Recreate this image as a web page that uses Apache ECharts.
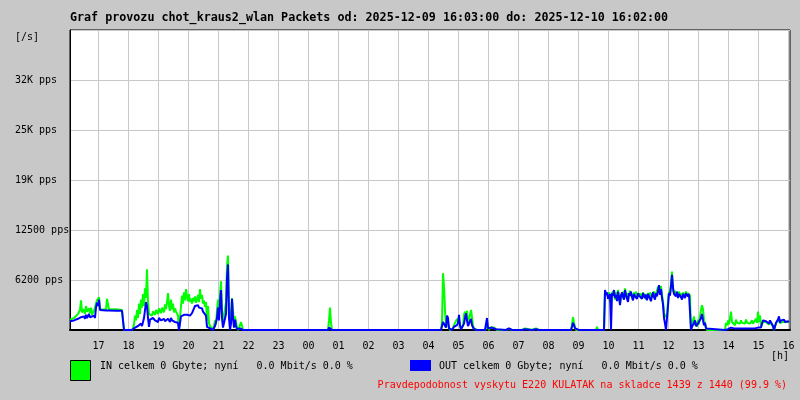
<!DOCTYPE html>
<html>
<head>
<meta charset="utf-8">
<script src="https://cdn.jsdelivr.net/npm/echarts@6/dist/echarts.min.js"></script>
<style>
html,body{margin:0;padding:0;background:#c8c8c8;}
#chart{width:800px;height:400px;}
</style>
</head>
<body>
<div id="chart"></div>
<script>
// time: minutes since 2025-12-09 16:00
const timeMin = [3,7,11,15,19,23,25,27,31,33,35,37,41,43,45,47,51,53,55,57,59,61,63,65,75,77,79,81,95,107,109,111,127,
129,131,133,135,137,139,141,143,145,147,149,151,153,155,157,159,161,163,167,169,173,175,179,181,185,187,191,193,195,197,199,201,203,205,207,209,211,213,215,217,219,221,223,
225,227,229,231,233,235,237,239,241,243,245,247,249,251,253,255,257,259,261,263,265,267,269,271,273,275,277,279,281,283,285,287,289,291,293,295,297,299,301,303,305,307,309,311,313,315,317,319,321,323,325,327,329,331,333,335,337,339,341,343,345,347,349,
415,417,419,519,521,523,525,527,
745,747,749,751,753,755,757,759,761,763,767,769,771,773,775,777,779,781,783,785,787,789,791,793,795,797,799,801,803,805,807,809,811,813,817,819,821,823,825,827,833,835,837,839,841,843,847,851,855,857,
875,877,881,885,887,893,895,897,907,909,913,917,927,929,935,939,941,955,957,959,977,979,981,987,989,991,1005,1007,1009,1011,1013,1015,1021,1023,1025,1055,1057,1059,1071,
1073,1075,1077,1079,1081,1083,1085,1087,1089,1091,1093,1095,1097,1099,1101,1103,1105,1107,1109,1111,1113,1115,1117,1119,1121,1123,1125,1127,1129,1131,1133,1135,1137,1139,1141,1143,1145,1147,1149,1151,1153,1155,1157,1159,1161,1163,1165,1167,1169,1171,1173,1175,1177,1179,1181,1183,1185,1187,1189,1191,1193,1195,1197,1199,1201,1203,1205,1207,1209,1211,1213,1215,1217,1219,1221,1223,1225,1227,1229,1231,1233,1235,1237,1239,1241,1243,1245,
1247,1249,1251,1253,1255,1257,1259,1261,1263,1265,1267,1269,1271,1273,1275,1277,
1313,1315,1317,1319,1321,1323,1325,1327,1329,1331,1333,1335,1337,1339,1341,1343,1345,1347,1349,1351,1353,1355,1357,1359,1361,1363,1365,1367,1369,1371,1373,1375,1377,1379,1381,1383,1385,1387,
1389,1391,1393,1395,1397,1399,1401,1403,1405,1407,1409,1411,1413,1415,1417,1419,1421,1423,1425,1427,1429,1431,1433,1435,1437,1439,1441];

const inPps = [1300,1200,1500,1700,2000,2500,3700,2200,2600,2000,3000,2300,2700,2100,2800,1900,2400,2200,3300,3700,3600,4100,2600,2550,2550,3900,3900,2550,2600,2500,2300,0,0,
300,700,1800,1200,2500,1500,3300,2000,3800,2800,4500,3000,5200,4000,7600,3500,2000,2200,1800,2300,1900,2500,2000,2700,2100,2800,2200,3200,2600,3500,4600,3000,2400,3800,2600,3300,2200,2700,2300,2500,1800,0,0,
3000,4300,3300,4700,3700,5100,4200,3600,4500,3500,3900,3300,4000,3600,4200,3400,3800,4400,3500,5100,3900,4400,3300,3700,2900,3500,1200,3000,800,500,700,300,100,500,1200,700,2500,3800,2000,4500,6100,2500,800,600,900,3500,8000,9300,3000,500,1500,4000,2500,800,1700,1000,300,0,0,600,1000,500,0,
0,150,0,0,1200,2800,900,0,
0,1000,7100,5500,2500,600,1200,700,300,0,0,200,600,400,800,1400,1000,1300,700,200,300,500,1900,2300,1600,2400,800,600,900,2500,1600,500,200,0,0,200,0,0,200,0,0,300,700,300,0,300,200,300,200,0,
0,200,150,200,0,0,150,0,0,100,200,0,0,100,200,100,0,0,100,0,0,150,0,0,100,0,0,700,1600,900,400,0,0,150,0,0,400,0,0,
4800,4600,4900,4300,4700,3500,4400,4200,4800,4500,3800,4700,4300,5000,4200,3300,4500,4000,4800,4300,5200,4100,4600,3700,4400,4900,4200,4500,3900,4700,4300,4800,4100,4500,4200,4600,4000,4400,4700,4100,4500,3800,4300,4600,4100,4700,3900,4400,4200,4800,4000,4500,4300,5400,5200,4600,5500,4400,3600,2200,1600,1900,1500,3600,4800,4500,5800,7300,5000,4600,4900,4400,4700,4200,4800,4300,4600,4000,4700,4200,4500,4800,4300,4600,4400,4300,0,
800,1200,1700,600,1000,400,1300,700,1800,2500,3100,2600,1200,700,300,0,
0,900,600,1200,700,1500,2300,1000,800,1100,600,1300,900,700,1100,800,1200,900,700,1000,800,1300,900,700,1100,800,1000,1200,800,1000,700,1400,900,2300,1000,1800,500,300,
1000,800,1200,1000,1100,1100,700,1000,1200,800,400,0,0,800,1000,1300,1500,900,1000,900,1000,1100,900,1000,800,900,1000];

const outPps = [1100,900,1200,1000,1400,1300,1600,1500,1700,1400,1900,1500,2000,1600,1700,1500,1800,1500,2800,3400,3000,3800,2500,2450,2450,2450,2450,2450,2400,2400,2200,0,0,
100,200,300,400,300,500,400,600,800,500,1000,1500,2500,3500,3000,1500,400,1300,1100,1500,1200,1400,1000,1500,1200,1000,1400,1100,1300,1000,1400,1200,1000,1500,1200,1100,1400,1000,1200,1100,900,0,0,
1700,1800,1700,1900,1800,1700,1900,1800,1900,1800,2000,2100,2300,2700,3000,3200,2900,3100,2800,3000,2600,2700,2300,2500,2100,1800,400,300,300,200,400,100,0,200,500,300,1500,2800,1200,3500,5000,1500,300,200,400,2000,6500,8200,1500,0,800,3900,1500,300,1300,500,100,0,0,200,300,200,0,
0,0,0,0,300,400,300,0,
0,500,1000,1000,800,300,1800,1500,200,0,0,100,400,300,400,600,900,1900,500,100,200,300,800,1500,2100,1200,500,400,300,1400,600,400,100,0,0,100,0,0,150,0,0,0,1500,200,0,200,300,200,100,0,
0,150,200,100,0,0,100,0,0,150,100,0,0,150,100,50,0,0,50,0,0,100,0,0,150,0,0,400,900,600,200,0,0,50,0,0,0,0,0,
5000,4400,4700,3900,4200,4500,0,4600,4300,5000,4000,4400,3600,4800,4100,3100,4300,4700,4200,3800,5000,4400,3900,3500,4600,4300,4800,4100,3700,4500,4200,4400,3900,4600,4300,4200,4500,3900,4600,4300,4000,4400,3700,4500,4200,4400,3600,4300,4700,4100,3800,4600,4200,4900,5600,4400,5100,4000,3200,1500,800,0,0,3000,4600,4300,5500,6900,5300,4500,4700,4200,4800,4000,4500,4600,4100,3800,4500,4400,4000,4600,4400,4200,4500,4400,0,
400,600,900,1200,500,300,800,1000,900,1500,2000,1200,600,900,200,0,
0,100,200,100,200,100,300,150,100,200,150,100,200,150,100,200,100,150,200,100,150,200,100,150,200,100,150,200,100,150,200,100,150,300,200,500,300,800,
1200,1000,1400,1100,1300,1200,800,1200,1000,1300,500,0,0,900,1100,1300,1700,900,1200,1000,1100,1300,1000,1200,900,1100,1000];

const hourLabels = ['17','18','19','20','21','22','23','00','01','02','03','04','05','06','07','08','09','10','11','12','13','14','15','16'];
const yTickLabels = ['', '6200 pps', '12500 pps', '19K pps', '25K pps', '32K pps', ''];

const titleText = 'Graf provozu chot_kraus2_wlan Packets od: 2025-12-09 16:03:00 do: 2025-12-10 16:02:00';
const inText = 'IN celkem 0 Gbyte; nyní   0.0 Mbit/s 0.0 %';
const outText = 'OUT celkem 0 Gbyte; nyní   0.0 Mbit/s 0.0 %';
const noteText = 'Pravdepodobnost vyskytu E220 KULATAK na skladce 1439 z 1440 (99.9 %)';

const inData = timeMin.map((t, i) => [t, inPps[i]]);
const outData = timeMin.map((t, i) => [t, outPps[i]]);

const FONT = '"DejaVu Sans Mono", monospace';
const chart = echarts.init(document.getElementById('chart'), null, {renderer: 'canvas'});
chart.setOption({
  animation: false,
  backgroundColor: '#c8c8c8',
  grid: [
    {left: 70, right: 10, top: 30, bottom: 70, show: true, backgroundColor: '#ffffff', borderColor: '#000000', borderWidth: 1},
    {left: 68.5, right: 11.5, top: 30, bottom: 70, show: false}
  ],
  xAxis: [
    {type: 'value', gridIndex: 0, min: 3, max: 1443, z: 3,
     axisLine: {show: true, lineStyle: {color: '#000', width: 2}},
     axisTick: {show: false}, axisLabel: {show: false}, splitLine: {show: false}},
    {type: 'value', gridIndex: 1, min: 0, max: 1440, interval: 60,
     axisLine: {show: false}, axisTick: {show: false},
     axisLabel: {show: true, margin: 11, color: '#000', fontFamily: FONT, fontSize: 10,
       formatter: v => v === 0 ? '' : hourLabels[v / 60 - 1]},
     splitLine: {show: true, lineStyle: {color: '#c8c8c8', width: 1}}}
  ],
  yAxis: [
    {type: 'value', gridIndex: 0, min: 0, max: 37500, interval: 6250,
     axisLine: {show: true, lineStyle: {color: '#000', width: 1}},
     axisTick: {show: false},
     axisLabel: {show: true, align: 'left', margin: 55, color: '#000', fontFamily: FONT, fontSize: 10,
       padding: [4, 0, 0, 0],
       formatter: (v) => yTickLabels[Math.round(v / 6250)] || ''},
     splitLine: {show: true, lineStyle: {color: '#c8c8c8', width: 1}}},
    {type: 'value', gridIndex: 1, min: 0, max: 1, show: false, splitLine: {show: false}}
  ],
  series: [
    {name: 'IN', type: 'line', xAxisIndex: 0, yAxisIndex: 0, data: inData, showSymbol: false,
     lineStyle: {color: '#00ff00', width: 2}, itemStyle: {color: '#00ff00'}},
    {name: 'OUT', type: 'line', xAxisIndex: 0, yAxisIndex: 0, data: outData, showSymbol: false,
     lineStyle: {color: '#0000ff', width: 2}, itemStyle: {color: '#0000ff'}}
  ],
  graphic: [
    {type: 'text', left: 70, top: 12, style: {text: titleText, font: 'bold 11.7px ' + FONT, fill: '#000'}},
    {type: 'text', left: 15, top: 32, style: {text: '[/s]', font: '10px ' + FONT, fill: '#000'}},
    {type: 'text', left: 771, top: 351, style: {text: '[h]', font: '10px ' + FONT, fill: '#000'}},
    {type: 'rect', shape: {x: 70.5, y: 360.5, width: 20, height: 20}, style: {fill: '#00ff00', stroke: '#000', lineWidth: 1}},
    {type: 'text', left: 100, top: 361, style: {text: inText, font: '10px ' + FONT, fill: '#000'}},
    {type: 'rect', shape: {x: 410, y: 360, width: 21, height: 11}, style: {fill: '#0000ff'}},
    {type: 'text', left: 439, top: 361, style: {text: outText, font: '10px ' + FONT, fill: '#000'}},
    {type: 'text', right: 13, top: 380, style: {text: noteText, font: '10px ' + FONT, fill: '#ff0000'}}
  ]
});
</script>
</body>
</html>
